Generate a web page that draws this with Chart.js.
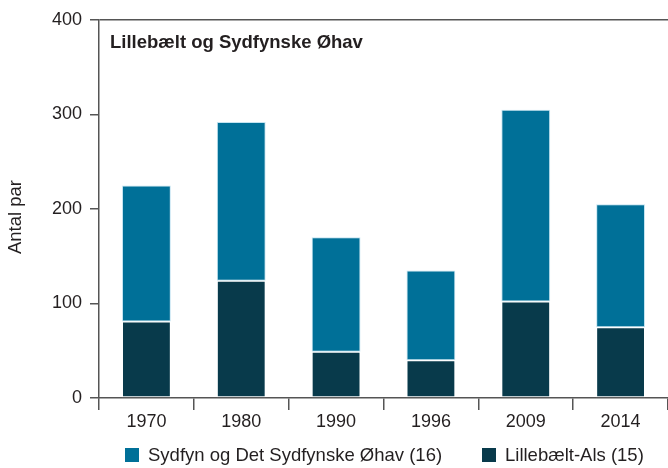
<!DOCTYPE html>
<html>
<head>
<meta charset="utf-8">
<script src="https://cdn.jsdelivr.net/npm/chart.js@4"></script>
<style>
  html, body { margin: 0; padding: 0; background: #fff; }
  #wrap { width: 668px; height: 468px; }
</style>
</head>
<body>
<div id="wrap"><canvas id="c" width="668" height="468"></canvas></div>
<script>
const years = ["1970", "1980", "1990", "1996", "2009", "2014"];
const lillebaeltAls = [81, 124, 49, 40, 102, 75];
const sydfyn = [144, 168, 121, 95, 203, 130];
const yTicks = [0, 100, 200, 300, 400];
const chartTitle = "Lillebælt og Sydfynske Øhav";
const yLabel = "Antal par";

const FONT = "'Liberation Sans', Arial, sans-serif";
const TXT = "#231f20";
const AX = "#555";

// title, y label and the bottom legend are drawn by hand to sit where the original has them
const extras = {
  id: "extras",
  afterDraw(chart) {
    const { ctx, chartArea } = chart;
    ctx.save();
    ctx.fillStyle = TXT;
    ctx.font = `bold 18.5px ${FONT}`;
    ctx.textAlign = "left";
    ctx.textBaseline = "middle";
    ctx.fillText(chartTitle, chartArea.left + 11, 43);

    ctx.font = `18.5px ${FONT}`;
    ctx.translate(16, 217);
    ctx.rotate(-Math.PI / 2);
    ctx.textAlign = "center";
    ctx.fillText(yLabel, 0, 0);
    ctx.restore();

    ctx.save();
    ctx.font = `18.5px ${FONT}`;
    ctx.textBaseline = "middle";
    const items = [
      { ds: chart.data.datasets[1], x: 125 },
      { ds: chart.data.datasets[0], x: 482 },
    ];
    items.forEach((it) => {
      ctx.fillStyle = it.ds.backgroundColor;
      ctx.fillRect(it.x, 448, 14, 14);
      ctx.fillStyle = TXT;
      ctx.fillText(it.ds.label, it.x + 23, 456);
    });
    ctx.restore();
  },
};

new Chart(document.getElementById("c"), {
  type: "bar",
  data: {
    labels: years,
    datasets: [
      { label: "Lillebælt-Als (15)", data: lillebaeltAls, backgroundColor: "#083a4b", borderColor: "rgba(255,255,255,0.7)", borderWidth: 1, borderSkipped: false },
      { label: "Sydfyn og Det Sydfynske Øhav (16)", data: sydfyn, backgroundColor: "#007098", borderColor: "rgba(190,225,240,0.9)", borderWidth: 1, borderSkipped: false },
    ],
  },
  options: {
    responsive: false,
    animation: false,
    events: [],
    layout: { padding: { top: 20, left: 0, right: -3, bottom: 0 } },
    datasets: { bar: { categoryPercentage: 1, barPercentage: 0.515 } },
    plugins: { legend: { display: false }, title: { display: false }, tooltip: { enabled: false } },
    scales: {
      x: {
        stacked: true,
        offset: true,
        grid: { offset: true, drawOnChartArea: false, tickLength: 12, color: AX, lineWidth: 1.5 },
        border: { color: AX, width: 1.5 },
        ticks: { color: TXT, font: { family: FONT, size: 18 }, padding: 1, maxRotation: 0 },
        afterFit: (s) => { s.height = 70; },
      },
      y: {
        stacked: true,
        min: 0,
        max: 400,
        afterBuildTicks: (s) => { s.ticks = yTicks.map((v) => ({ value: v })); },
        grid: {
          drawOnChartArea: true,
          tickLength: 9,
          tickColor: AX,
          lineWidth: 1.5,
          color: (c) => (c.tick && c.tick.value === 400 ? AX : "rgba(0,0,0,0)"),
        },
        border: { color: AX, width: 1.5 },
        ticks: { color: TXT, font: { family: FONT, size: 18 }, padding: 8 },
        afterFit: (s) => { s.width = 99; },
      },
    },
  },
  plugins: [extras],
});
</script>
</body>
</html>
